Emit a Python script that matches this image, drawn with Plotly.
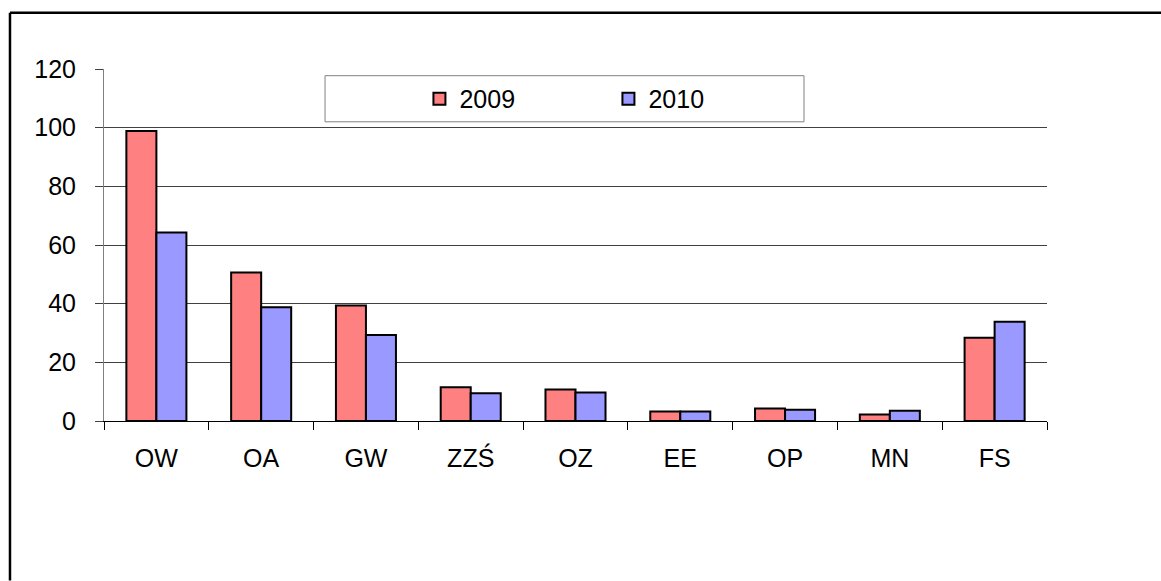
import plotly.graph_objects as go

# Données
categories = ["OW", "OA", "GW", "ZZŚ", "OZ", "EE", "OP", "MN", "FS"]
values_2009 = [98.9, 50.6, 39.4, 11.5, 10.7, 3.2, 4.3, 2.2, 28.4]
values_2010 = [64.3, 38.8, 29.3, 9.5, 9.7, 3.2, 3.8, 3.5, 33.8]
y_ticks = [0, 20, 40, 60, 80, 100, 120]

FONT = "Arial, Liberation Sans, sans-serif"

fig = go.Figure()
fig.add_trace(go.Bar(
    x=categories, y=values_2009, name="2009",
    marker=dict(color="#FF8080", line=dict(color="black", width=2))
))
fig.add_trace(go.Bar(
    x=categories, y=values_2010, name="2010",
    marker=dict(color="#9999FF", line=dict(color="black", width=2))
))

# cadre extérieur (bord gauche et bord haut, le reste sort de l'image)
frame = dict(color="black", width=2.5)
fig.add_shape(type="line", xref="paper", yref="paper",
              x0=-0.0997, x1=-0.0997, y0=-0.453, y1=1.16, line=frame)
fig.add_shape(type="line", xref="paper", yref="paper",
              x0=-0.0997, x1=1.1209, y0=1.16, y1=1.16, line=frame)
# cadre de la légende
fig.add_shape(type="rect", xref="paper", yref="paper",
              x0=0.2344, x1=0.7423, y0=0.850, y1=0.981,
              line=dict(color="#808080", width=1), fillcolor="white", layer="below")

fig.update_layout(
    width=1161, height=581,
    margin=dict(l=104, r=114, t=69, b=159.5),
    paper_bgcolor="white", plot_bgcolor="white",
    font=dict(family=FONT, size=25, color="black"),
    barmode="group", bargap=0.427, bargroupgap=0,
    showlegend=True,
    legend=dict(
        orientation="h", x=0.3345, y=0.915, xanchor="left", yanchor="middle",
        bgcolor="rgba(0,0,0,0)", borderwidth=0,
        font=dict(family=FONT, size=25), entrywidth=144, itemwidth=30,
    ),
)
fig.update_xaxes(
    showline=True, linecolor="black", linewidth=1,
    ticks="outside", tickson="boundaries", ticklen=8, tickcolor="black",
    ticklabelstandoff=15, showgrid=False,
)
fig.update_yaxes(
    range=[0, 120], tickvals=y_ticks,
    showline=True, linecolor="#808080", linewidth=1,
    ticks="outside", ticklen=8, tickcolor="#404040",
    ticklabelstandoff=14,
    showgrid=True, gridcolor="#404040", gridwidth=1, zeroline=False,
)

# supprimer la marge par défaut de la page et la barre d'outils
fig.write_html("out.html", config={"displayModeBar": False},
               post_script="document.body.style.margin='0';")
